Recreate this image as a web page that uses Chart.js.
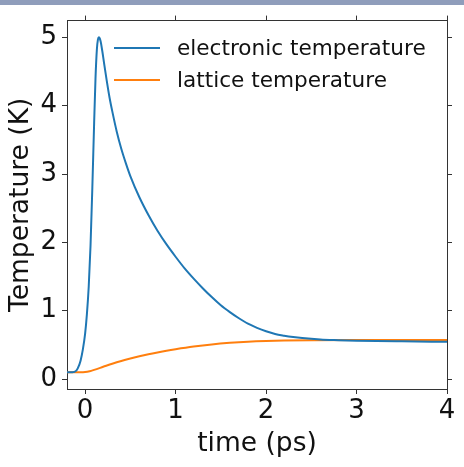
<!DOCTYPE html>
<html>
<head>
<meta charset="utf-8">
<script src="https://cdn.jsdelivr.net/npm/chart.js@4"></script>
<style>
  html, body { margin: 0; padding: 0; background: #fff; }
  #wrap { width: 464px; height: 467px; position: relative; }
</style>
</head>
<body>
<div id="wrap"><canvas id="chart" width="464" height="467"></canvas></div>
<script>
// time axis (ps) and temperatures (K)
const elecTime = [-0.2, -0.14, -0.1, -0.08, -0.05, -0.025, 0.0, 0.02, 0.04, 0.06, 0.08, 0.1,
  0.115, 0.13, 0.142, 0.152, 0.17, 0.19, 0.21, 0.24, 0.27, 0.3, 0.35, 0.4, 0.45, 0.5,
  0.6, 0.7, 0.8, 0.9, 1.0, 1.1, 1.2, 1.3, 1.4, 1.5, 1.6, 1.7, 1.8, 1.9, 2.0, 2.1, 2.2,
  2.3, 2.4, 2.6, 2.8, 3.0, 3.5, 4.0];
const elecTemp = [0.1, 0.1, 0.12, 0.16, 0.27, 0.43, 0.66, 0.95, 1.35, 1.95, 2.8, 3.75,
  4.4, 4.82, 4.97, 5.0, 4.95, 4.8, 4.62, 4.36, 4.12, 3.92, 3.62, 3.37, 3.16, 2.97,
  2.66, 2.4, 2.17, 1.97, 1.79, 1.62, 1.47, 1.33, 1.2, 1.08, 0.98, 0.89, 0.81, 0.75, 0.7, 0.66, 0.635,
  0.615, 0.6, 0.58, 0.57, 0.562, 0.552, 0.546];

const latTime = [-0.2, -0.05, 0.0, 0.05, 0.1, 0.2, 0.3, 0.4, 0.5, 0.6, 0.7, 0.8, 0.9, 1.0,
  1.2, 1.4, 1.6, 1.8, 2.0, 2.2, 2.5, 3.0, 4.0];
const latTemp = [0.1, 0.1, 0.103, 0.115, 0.135, 0.18, 0.225, 0.265, 0.3, 0.333, 0.363, 0.39, 0.415, 0.437,
  0.476, 0.507, 0.53, 0.547, 0.558, 0.565, 0.57, 0.573, 0.573];

const seriesLabels = ["electronic temperature", "lattice temperature"];
const seriesColors = ["#1f77b4", "#ff7f0e"];

const xTicks = [0, 1, 2, 3, 4];
const yTicks = [0, 1, 2, 3, 4, 5];
const xRange = [-0.2, 4];
const yRange = [-0.145, 5.245];

const FONT = '"DejaVu Sans", sans-serif';
const FRAME = "#333333";
const TEXT = "#111111";

function toPoints(xs, ys) {
  return xs.map((x, i) => ({ x, y: ys[i] }));
}

function fixTicks(values) {
  return (scale) => { scale.ticks = values.map((v) => ({ value: v })); };
}

function frameGrid() {
  return { display: true, drawOnChartArea: false, drawTicks: true, tickLength: 5, color: FRAME, lineWidth: 1 };
}

// gray strip along the top edge
const topBand = {
  id: "topBand",
  beforeDraw(chart) {
    const ctx = chart.ctx;
    ctx.save();
    ctx.fillStyle = "#8f9dbb";
    ctx.fillRect(0, 0, chart.width, 5);
    ctx.restore();
  }
};

// matplotlib-style legend inside the plot, no frame
const innerLegend = {
  id: "innerLegend",
  afterDraw(chart) {
    const ctx = chart.ctx;
    const rows = [48, 80];
    ctx.save();
    ctx.font = "21.6px " + FONT;
    ctx.textBaseline = "middle";
    ctx.textAlign = "left";
    chart.data.datasets.forEach((ds, i) => {
      const y = rows[i];
      ctx.strokeStyle = ds.borderColor;
      ctx.lineWidth = 2;
      ctx.beginPath();
      ctx.moveTo(114, y);
      ctx.lineTo(160, y);
      ctx.stroke();
      ctx.fillStyle = TEXT;
      ctx.fillText(ds.label, 177, y + 1);
    });
    ctx.restore();
  }
};

new Chart(document.getElementById("chart"), {
  type: "line",
  data: {
    datasets: [
      {
        label: seriesLabels[0],
        data: toPoints(elecTime, elecTemp),
        borderColor: seriesColors[0],
        borderWidth: 2,
        pointRadius: 0,
        cubicInterpolationMode: "monotone",
        xAxisID: "x",
        yAxisID: "y"
      },
      {
        label: seriesLabels[1],
        data: toPoints(latTime, latTemp),
        borderColor: seriesColors[1],
        borderWidth: 2,
        pointRadius: 0,
        cubicInterpolationMode: "monotone",
        xAxisID: "x",
        yAxisID: "y"
      }
    ]
  },
  options: {
    responsive: false,
    animation: false,
    devicePixelRatio: 1,
    layout: { padding: 0 },
    plugins: {
      legend: { display: false },
      tooltip: { enabled: false }
    },
    scales: {
      x: {
        type: "linear",
        position: "bottom",
        min: xRange[0],
        max: xRange[1],
        afterBuildTicks: fixTicks(xTicks),
        afterFit: (s) => { s.height = 78; },
        grid: frameGrid(),
        border: { display: true, color: FRAME, width: 1 },
        ticks: { color: TEXT, padding: 2, maxRotation: 0, font: { family: FONT, size: 26 } },
        title: {
          display: true,
          text: "time (ps)",
          color: TEXT,
          font: { family: FONT, size: 26.5 },
          padding: { top: 0, bottom: 7 }
        }
      },
      x2: {
        type: "linear",
        position: "top",
        min: xRange[0],
        max: xRange[1],
        afterBuildTicks: fixTicks(xTicks),
        afterFit: (s) => { s.height = 18; },
        grid: frameGrid(),
        border: { display: true, color: FRAME, width: 1 },
        ticks: { display: false }
      },
      y: {
        type: "linear",
        position: "left",
        min: yRange[0],
        max: yRange[1],
        afterBuildTicks: fixTicks(yTicks),
        afterFit: (s) => { s.width = 67; },
        grid: frameGrid(),
        border: { display: true, color: FRAME, width: 1 },
        ticks: { color: TEXT, padding: 5, font: { family: FONT, size: 26 } },
        title: {
          display: true,
          text: "Temperature (K)",
          color: TEXT,
          font: { family: FONT, size: 26.5 },
          padding: { top: 5, bottom: 0 }
        }
      },
      y2: {
        type: "linear",
        position: "right",
        min: yRange[0],
        max: yRange[1],
        afterBuildTicks: fixTicks(yTicks),
        afterFit: (s) => { s.width = 17; },
        grid: frameGrid(),
        border: { display: true, color: FRAME, width: 1 },
        ticks: { display: false }
      }
    }
  },
  plugins: [topBand, innerLegend]
});
</script>
</body>
</html>
